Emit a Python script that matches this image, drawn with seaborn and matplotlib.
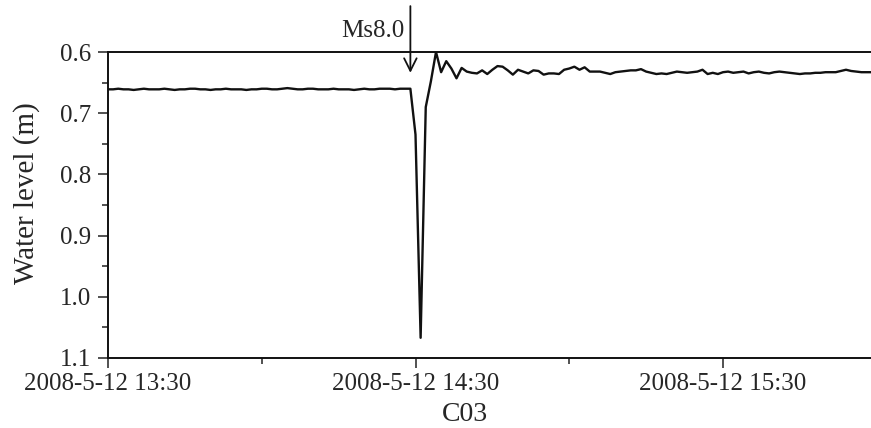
import matplotlib
matplotlib.use("Agg")
import matplotlib.pyplot as plt
import matplotlib.dates as mdates
from matplotlib.ticker import MultipleLocator
import pandas as pd
import seaborn as sns

# Well C03 water level, one reading per minute starting 2008-05-12 13:30
start_time = "2008-05-12 13:30"
water_level = [
    # 13:30 - 14:29, before the Wenchuan earthquake
    0.661, 0.661, 0.660, 0.661, 0.661, 0.662, 0.661, 0.660, 0.661, 0.661,
    0.661, 0.660, 0.661, 0.662, 0.661, 0.661, 0.660, 0.660, 0.661, 0.661,
    0.662, 0.661, 0.661, 0.660, 0.661, 0.661, 0.661, 0.662, 0.661, 0.661,
    0.660, 0.660, 0.661, 0.661, 0.660, 0.659, 0.660, 0.661, 0.661, 0.660,
    0.660, 0.661, 0.661, 0.661, 0.660, 0.661, 0.661, 0.661, 0.662, 0.661,
    0.660, 0.661, 0.661, 0.660, 0.660, 0.660, 0.661, 0.660, 0.660, 0.660,
    # 14:30 - 14:39, coseismic drop and oscillation
    0.735, 1.067, 0.690, 0.648, 0.600, 0.633, 0.615, 0.627, 0.643, 0.626,
    # 14:40 onwards
    0.632, 0.634, 0.635, 0.630, 0.636, 0.629, 0.623, 0.624, 0.630, 0.637,
    0.629, 0.632, 0.635, 0.630, 0.631, 0.637, 0.635, 0.635, 0.636, 0.629,
    0.627, 0.624, 0.629, 0.625, 0.632, 0.632, 0.632, 0.634, 0.636, 0.633,
    0.632, 0.631, 0.630, 0.630, 0.628, 0.632, 0.634, 0.636, 0.635, 0.636,
    0.634, 0.632, 0.633, 0.634, 0.633, 0.632, 0.629, 0.636, 0.634, 0.636,
    0.633, 0.632, 0.634, 0.633, 0.632, 0.635, 0.633, 0.632, 0.634, 0.635,
    0.633, 0.632, 0.633, 0.634, 0.635, 0.636, 0.635, 0.635, 0.634, 0.634,
    0.633, 0.633, 0.633, 0.631, 0.629, 0.631, 0.632, 0.633, 0.633, 0.633,
]
tick_times = ["2008-05-12 13:30", "2008-05-12 14:30", "2008-05-12 15:30"]
tick_labels = ["2008-5-12 13:30", "2008-5-12 14:30", "2008-5-12 15:30"]
y_ticks = [0.6, 0.7, 0.8, 0.9, 1.0, 1.1]
y_tick_labels = ["0.6", "0.7", "0.8", "0.9", "1.0", "1.1"]
quake_time = "2008-05-12 14:29"
quake_label = "Ms8.0"
station = "C03"

df = pd.DataFrame({
    "time": pd.date_range(start_time, periods=len(water_level), freq="min"),
    "level": water_level,
})

sns.set_style("ticks")
plt.rcParams["font.family"] = ["Liberation Serif", "DejaVu Serif"]

fig = plt.figure(figsize=(8.71, 4.28), dpi=100)
ax = fig.add_axes([0.124, 0.1636, 0.8826, 0.7149])

sns.lineplot(data=df, x="time", y="level", ax=ax, color="#111111", linewidth=1.7)

ax.set_xlim(pd.Timestamp("2008-05-12 13:30"), pd.Timestamp("2008-05-12 16:00"))
ax.set_ylim(1.1, 0.6)

ax.set_xticks([mdates.date2num(pd.Timestamp(t)) for t in tick_times])
ax.set_xticklabels(tick_labels, fontsize=18)
ax.xaxis.set_minor_locator(mdates.MinuteLocator(byminute=[0]))
ax.set_yticks(y_ticks)
ax.set_yticklabels(y_tick_labels, fontsize=18)
ax.yaxis.set_minor_locator(MultipleLocator(0.05))

ax.tick_params(axis="both", which="major", direction="out", length=7, width=1.1, color="#222222", pad=4)
ax.tick_params(axis="both", which="minor", direction="out", length=4, width=1.1, color="#222222")
ax.tick_params(axis="y", which="major", pad=5)

for side in ["left", "bottom", "top", "right"]:
    ax.spines[side].set_linewidth(1.4)
    ax.spines[side].set_color("#111111")

ax.set_xlabel(station, fontsize=20)
ax.xaxis.set_label_coords((465 - 108) / 768.75, -0.143)
ax.set_ylabel("Water level (m)", fontsize=21)
ax.yaxis.set_label_coords(-0.089, 0.54)

# Earthquake onset arrow and magnitude label
qt = pd.Timestamp(quake_time)
ax.annotate(
    "", xy=(qt, 0.634), xytext=(qt, 0.525), textcoords="data",
    arrowprops=dict(arrowstyle="->,head_length=0.9,head_width=0.45", color="#111111", lw=1.3,
                    shrinkA=0, shrinkB=0),
    annotation_clip=False,
)
ax.text(qt - pd.Timedelta(minutes=1.2), 0.566, quake_label, fontsize=18,
        ha="right", va="center", clip_on=False)

fig.savefig("out.png", dpi=100)
